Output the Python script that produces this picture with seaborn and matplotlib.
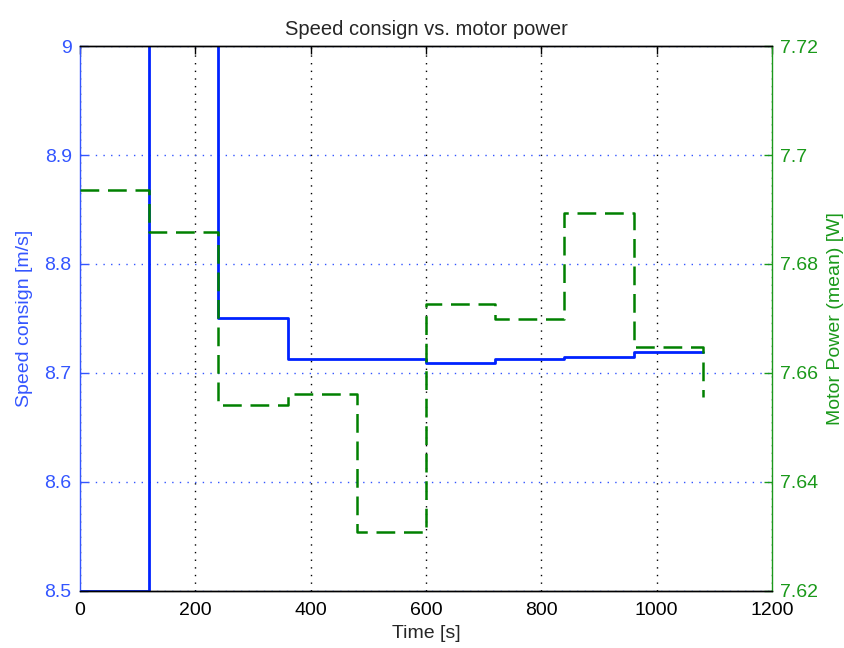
import matplotlib
matplotlib.use('Agg')
import matplotlib.pyplot as plt
import seaborn as sns
import pandas as pd

# data (stairs, one value every 120 s)
time_s = [0, 120, 240, 360, 480, 600, 720, 840, 960, 1080]
speed_consign = [8.5, 9.3, 8.75, 8.7131, 8.7131, 8.7089, 8.7126, 8.7147, 8.7193, 8.7193]
motor_power = [7.6936, 7.6859, 7.6541, 7.6561, 7.6308, 7.6727, 7.6699, 7.6894, 7.6648, 7.6556]

x_ticks = [0, 200, 400, 600, 800, 1000, 1200]
left_ticks = [8.5, 8.6, 8.7, 8.8, 8.9, 9.0]
left_labels = ['8.5', '8.6', '8.7', '8.8', '8.9', '9']
right_ticks = [7.62, 7.64, 7.66, 7.68, 7.70, 7.72]
right_labels = ['7.62', '7.64', '7.66', '7.68', '7.7', '7.72']

blue = '#0022ff'
blue_txt = '#3355ff'
green = '#008000'
green_txt = '#1a991a'

sns.set_style('white')
plt.rcParams['font.family'] = ['Liberation Sans', 'DejaVu Sans']
plt.rcParams['font.size'] = 14

df = pd.DataFrame({'time': time_s, 'speed': speed_consign, 'power': motor_power})

fig = plt.figure(figsize=(8.45, 6.48), dpi=100)
ax = fig.add_axes([0.0947, 0.088, 0.819, 0.841])
ax2 = ax.twinx()

sns.lineplot(data=df, x='time', y='speed', ax=ax, drawstyle='steps-post',
             color=blue, lw=2.0)
sns.lineplot(data=df, x='time', y='power', ax=ax2, drawstyle='steps-post',
             color=green, lw=1.8, linestyle=(0, (7.5, 3.5)))

ax.set_xlim(0, 1200)
ax.set_ylim(8.5, 9.0)
ax2.set_ylim(7.62, 7.72)

ax.set_xticks(x_ticks)
ax.set_xticklabels([str(t) for t in x_ticks])
ax.set_yticks(left_ticks)
ax.set_yticklabels(left_labels)
ax2.set_yticks(right_ticks)
ax2.set_yticklabels(right_labels)

# grid: black dotted verticals, blue dotted horizontals
ax.grid(axis='x', color='black', linestyle=(0, (1, 4.5)), lw=1.0)
ax.grid(axis='y', color=blue_txt, linestyle=(0, (1, 4.5)), lw=1.0)
ax.set_axisbelow(True)

ax.tick_params(axis='x', direction='in', top=True, length=6, width=1,
               colors='black', labelsize=14, pad=8)
ax.tick_params(axis='y', direction='in', length=6, width=1,
               colors=blue_txt, labelsize=14, pad=6)
ax2.tick_params(axis='y', direction='in', length=6, width=1,
                colors=green_txt, labelsize=14, pad=6)

for a in (ax, ax2):
    for s in a.spines.values():
        s.set_linewidth(1.0)
        s.set_color('black')
ax.spines['left'].set_color(blue_txt)
ax2.spines['left'].set_visible(False)
ax.spines['right'].set_visible(False)
ax2.spines['right'].set_color(green_txt)

ax.set_xlabel('Time [s]', fontsize=14, labelpad=4)
ax.set_ylabel('Speed consign [m/s]', fontsize=14, color=blue_txt, labelpad=8)
ax2.set_ylabel('Motor Power (mean) [W]', fontsize=14, color=green_txt, labelpad=6)
ax.set_title('Speed consign vs. motor power', fontsize=14.5, pad=8)

fig.savefig('out.png', dpi=100)
